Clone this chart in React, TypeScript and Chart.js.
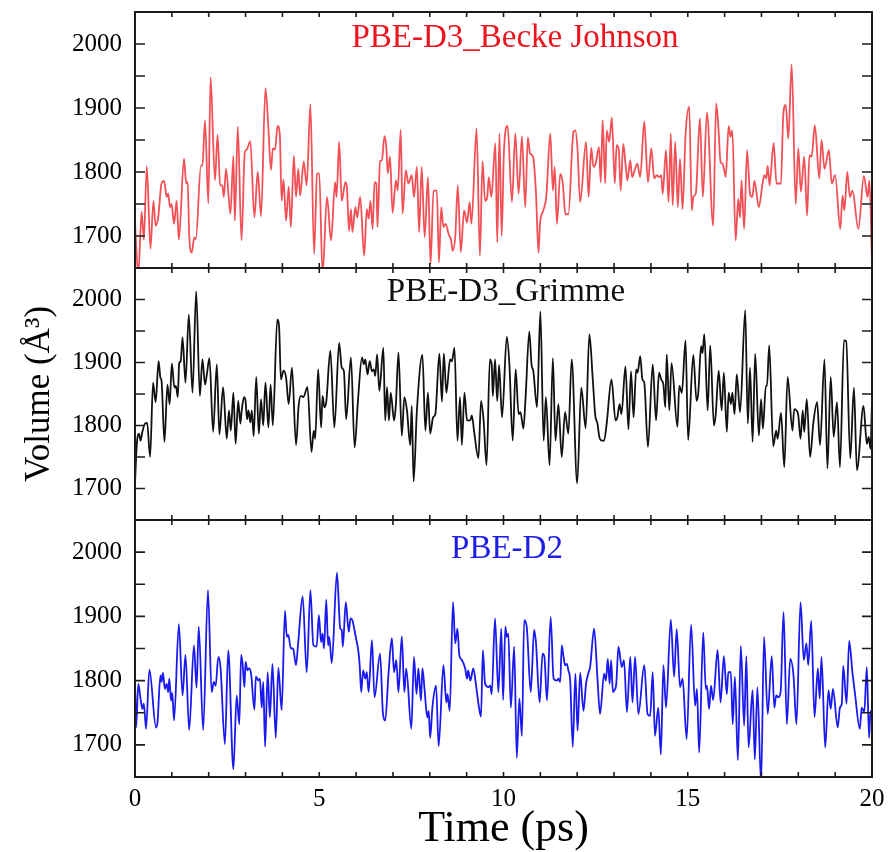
import React, { useEffect, useRef } from "react";
import { Chart, registerables } from "chart.js";

Chart.register(...registerables);

// ---------------- data ----------------
const xTickValues = [0, 5, 10, 15, 20];
const yTickValues = [1700, 1800, 1900, 2000];
const xMinorTicks = [0, 1, 2, 3, 4, 5, 6, 7, 8, 9, 10, 11, 12, 13, 14, 15, 16, 17, 18, 19, 20];
const yMinorTicks = [1700, 1750, 1800, 1850, 1900, 1950, 2000];
const panelTitles = ["PBE-D3_Becke Johnson", "PBE-D3_Grimme", "PBE-D2"];
const xAxisTitle = "Time (ps)";
const yAxisTitle = "Volume (Å³)";

const redTime = [0.00,0.09,0.18,0.24,0.32,0.42,0.50,0.56,0.63,0.72,0.79,0.86,0.90,0.95,0.99,1.06,1.13,1.19,1.33,1.39,1.43,1.47,1.54,1.61,1.65,1.79,1.83,1.90,1.99,2.05,2.17,2.24,2.31,2.37,2.41,2.47,2.59,2.67,2.71,2.79,2.89,2.98,3.03,3.13,3.24,3.33,3.42,3.54,3.62,3.69,3.74,3.80,3.87,3.93,3.98,4.03,4.10,4.17,4.23,4.31,4.37,4.43,4.48,4.58,4.66,4.76,4.86,4.94,5.00,5.09,5.21,5.32,5.43,5.47,5.54,5.61,5.71,5.75,5.81,5.86,5.90,5.98,6.03,6.11,6.22,6.29,6.34,6.39,6.45,6.50,6.55,6.58,6.65,6.70,6.77,6.82,6.86,6.92,6.99,7.08,7.13,7.21,7.26,7.35,7.42,7.51,7.57,7.65,7.71,7.78,7.86,7.95,8.02,8.10,8.19,8.25,8.31,8.37,8.43,8.51,8.58,8.62,8.69,8.76,8.84,8.93,9.01,9.08,9.13,9.27,9.36,9.43,9.50,9.56,9.60,9.67,9.78,9.83,9.89,9.95,10.01,10.11,10.23,10.32,10.41,10.50,10.59,10.66,10.72,10.80,10.88,10.95,10.99,11.08,11.16,11.27,11.34,11.39,11.45,11.54,11.61,11.68,11.76,11.90,11.95,12.01,12.08,12.24,12.31,12.38,12.44,12.50,12.59,12.64,12.69,12.76,12.80,12.87,12.94,13.02,13.07,13.13,13.18,13.25,13.31,13.36,13.44,13.49,13.56,13.63,13.71,13.82,13.92,14.01,14.09,14.16,14.23,14.28,14.32,14.41,14.48,14.54,14.59,14.66,14.73,14.79,14.86,14.94,15.04,15.11,15.15,15.22,15.33,15.41,15.52,15.69,15.77,15.83,15.89,15.94,15.99,16.03,16.11,16.16,16.21,16.30,16.37,16.42,16.46,16.53,16.61,16.69,16.75,16.81,16.93,17.03,17.08,17.13,17.17,17.22,17.33,17.41,17.48,17.53,17.59,17.66,17.73,17.82,17.93,18.00,18.07,18.16,18.24,18.30,18.36,18.45,18.57,18.63,18.71,18.83,18.91,19.00,19.14,19.20,19.25,19.33,19.40,19.47,19.63,19.78,19.88,19.93,20.00];
const redVolume = [1719,1640,1738,1694,1809,1680,1755,1716,1729,1782,1786,1761,1766,1745,1750,1719,1755,1694,1821,1782,1784,1703,1674,1698,1695,1810,1810,1881,1751,1948,1787,1858,1779,1779,1761,1805,1735,1825,1724,1871,1693,1831,1835,1848,1729,1800,1731,1931,1868,1803,1837,1835,1872,1858,1755,1788,1724,1777,1714,1825,1761,1805,1763,1816,1779,1906,1672,1797,1798,1640,1761,1693,1784,1761,1847,1755,1784,1776,1708,1742,1706,1745,1729,1761,1669,1742,1727,1755,1711,1784,1782,1714,1817,1818,1856,1839,1798,1824,1736,1787,1771,1866,1735,1803,1782,1795,1761,1808,1706,1808,1698,1792,1656,1771,1771,1659,1745,1714,1719,1703,1693,1677,1698,1779,1675,1740,1721,1753,1719,1868,1669,1817,1755,1761,1792,1761,1845,1690,1860,1700,1829,1872,1753,1860,1766,1856,1745,1854,1829,1824,1769,1674,1719,1740,1761,1860,1771,1808,1719,1797,1782,1734,1734,1863,1865,1834,1753,1847,1761,1838,1808,1813,1839,1784,1881,1782,1865,1847,1885,1782,1842,1834,1771,1844,1813,1787,1818,1792,1803,1813,1792,1879,1784,1837,1790,1795,1792,1795,1766,1834,1753,1860,1748,1847,1745,1821,1742,1858,1902,1740,1761,1767,1884,1761,1893,1716,1907,1871,1816,1813,1803,1792,1872,1855,1865,1693,1758,1729,1787,1711,1834,1766,1761,1786,1745,1782,1795,1790,1810,1779,1845,1782,1782,1782,1887,1905,1852,1968,1750,1837,1769,1824,1732,1826,1824,1873,1790,1850,1805,1834,1782,1795,1711,1763,1740,1800,1761,1771,1711,1794,1761,1787,1656];

const blackTime = [0.00,0.05,0.11,0.15,0.20,0.27,0.33,0.41,0.49,0.56,0.64,0.69,0.72,0.80,0.88,0.94,1.00,1.07,1.11,1.16,1.20,1.24,1.29,1.37,1.46,1.56,1.66,1.76,1.83,1.90,1.95,2.02,2.12,2.22,2.29,2.39,2.49,2.55,2.60,2.67,2.73,2.80,2.86,2.89,2.96,3.00,3.04,3.08,3.13,3.17,3.22,3.29,3.36,3.42,3.48,3.54,3.62,3.68,3.74,3.86,3.91,3.96,4.03,4.10,4.17,4.26,4.37,4.44,4.50,4.57,4.68,4.79,4.85,4.89,4.97,5.05,5.09,5.14,5.19,5.30,5.41,5.54,5.61,5.67,5.73,5.86,5.96,6.05,6.16,6.21,6.25,6.31,6.37,6.43,6.48,6.52,6.57,6.63,6.74,6.79,6.84,6.89,6.94,7.03,7.08,7.15,7.24,7.31,7.38,7.47,7.51,7.56,7.65,7.80,7.88,7.95,8.01,8.09,8.15,8.26,8.33,8.38,8.45,8.55,8.60,8.67,8.75,8.82,8.87,8.94,9.01,9.10,9.14,9.21,9.32,9.39,9.46,9.54,9.63,9.68,9.71,9.77,9.83,9.88,9.96,10.09,10.16,10.25,10.33,10.41,10.46,10.54,10.60,10.70,10.76,10.81,10.91,11.00,11.09,11.15,11.25,11.34,11.41,11.49,11.58,11.67,11.76,11.85,12.00,12.11,12.23,12.33,12.42,12.49,12.55,12.60,12.67,12.73,12.80,12.93,13.04,13.09,13.15,13.20,13.31,13.39,13.46,13.53,13.60,13.64,13.71,13.77,13.82,13.92,14.05,14.14,14.22,14.28,14.34,14.39,14.43,14.50,14.56,14.72,14.77,14.84,14.94,15.01,15.15,15.24,15.29,15.36,15.40,15.45,15.54,15.61,15.71,15.76,15.84,15.92,15.98,16.06,16.11,16.17,16.21,16.27,16.33,16.42,16.56,16.63,16.69,16.76,16.83,16.93,16.99,17.04,17.12,17.15,17.21,17.32,17.40,17.44,17.53,17.62,17.71,17.84,17.89,17.95,18.00,18.06,18.12,18.16,18.23,18.32,18.41,18.51,18.59,18.71,18.79,18.88,18.96,19.05,19.13,19.24,19.30,19.41,19.51,19.59,19.77,19.86,19.91,19.96,20.00];
const blackVolume = [1708,1771,1787,1776,1790,1803,1804,1750,1868,1837,1902,1876,1871,1774,1865,1834,1898,1860,1863,1845,1899,1902,1940,1868,1976,1852,2013,1847,1905,1865,1881,1907,1790,1897,1786,1861,1779,1824,1792,1852,1771,1839,1803,1821,1845,1839,1810,1824,1805,1824,1783,1877,1787,1842,1800,1868,1797,1865,1800,1968,1957,1873,1887,1876,1834,1892,1769,1831,1847,1845,1861,1758,1792,1779,1889,1797,1847,1829,1837,1919,1797,1931,1892,1886,1810,1908,1765,1839,1908,1897,1905,1881,1902,1886,1889,1879,1913,1855,1923,1808,1861,1808,1852,1808,1834,1916,1784,1845,1824,1769,1831,1711,1824,1912,1792,1852,1787,1813,1818,1914,1838,1914,1852,1905,1902,1923,1776,1845,1769,1852,1808,1808,1816,1787,1748,1839,1808,1737,1905,1897,1847,1905,1839,1896,1813,1941,1897,1776,1889,1818,1821,1795,1845,1949,1897,1886,1829,1981,1776,1845,1737,1907,1776,1834,1750,1821,1787,1905,1708,1860,1796,1945,1876,1816,1803,1782,1776,1776,1803,1873,1808,1813,1834,1818,1894,1794,1886,1813,1889,1884,1910,1873,1868,1766,1897,1808,1884,1873,1865,1829,1913,1824,1899,1798,1863,1852,1935,1777,1912,1839,1855,1926,1915,1945,1824,1927,1800,1818,1887,1824,1884,1790,1852,1834,1852,1818,1881,1821,1983,1803,1892,1774,1914,1784,1842,1795,1863,1863,1927,1767,1792,1779,1820,1734,1877,1792,1826,1824,1816,1779,1824,1790,1842,1750,1805,1837,1769,1905,1732,1877,1782,1837,1734,1935,1934,1748,1860,1729,1831,1771,1782,1763,1840];

const blueTime = [0.00,0.03,0.09,0.15,0.20,0.24,0.30,0.39,0.57,0.61,0.69,0.72,0.76,0.81,0.86,0.90,0.93,0.98,1.01,1.06,1.19,1.29,1.37,1.47,1.60,1.67,1.73,1.85,1.98,2.08,2.14,2.19,2.26,2.32,2.44,2.53,2.67,2.76,2.83,2.88,2.92,2.97,3.00,3.05,3.09,3.15,3.24,3.28,3.35,3.39,3.44,3.48,3.53,3.60,3.66,3.73,3.82,3.89,3.98,4.07,4.12,4.16,4.23,4.29,4.37,4.43,4.55,4.66,4.76,4.84,4.93,4.99,5.05,5.09,5.13,5.19,5.24,5.27,5.34,5.48,5.57,5.61,5.64,5.72,5.80,5.85,5.90,5.98,6.07,6.10,6.14,6.19,6.25,6.29,6.34,6.43,6.50,6.65,6.73,6.79,6.88,6.97,7.03,7.09,7.15,7.24,7.31,7.36,7.50,7.57,7.64,7.69,7.76,7.80,7.86,7.93,7.97,8.01,8.07,8.17,8.24,8.37,8.45,8.48,8.54,8.63,8.69,8.75,8.80,8.87,8.96,9.01,9.04,9.10,9.18,9.25,9.32,9.39,9.44,9.50,9.59,9.64,9.68,9.77,9.86,9.94,9.99,10.05,10.09,10.13,10.20,10.29,10.36,10.43,10.50,10.56,10.63,10.74,10.83,10.88,10.98,11.06,11.11,11.18,11.28,11.36,11.45,11.49,11.54,11.58,11.63,11.67,11.72,11.76,11.81,11.88,11.95,12.01,12.08,12.17,12.24,12.31,12.35,12.46,12.55,12.62,12.73,12.78,12.83,12.88,12.92,12.97,13.01,13.06,13.12,13.21,13.27,13.35,13.44,13.50,13.57,13.66,13.82,13.91,13.98,14.05,14.11,14.20,14.27,14.34,14.41,14.54,14.63,14.70,14.79,14.86,14.97,15.09,15.20,15.25,15.31,15.42,15.49,15.52,15.58,15.63,15.69,15.81,15.89,15.98,16.06,16.10,16.17,16.22,16.28,16.36,16.44,16.53,16.59,16.65,16.76,16.82,16.89,16.99,17.07,17.17,17.28,17.35,17.40,17.46,17.52,17.60,17.69,17.78,17.87,17.95,18.06,18.15,18.22,18.27,18.35,18.44,18.53,18.58,18.63,18.73,18.82,18.88,18.94,19.07,19.13,19.18,19.22,19.31,19.38,19.47,19.54,19.67,19.72,19.79,19.86,19.92,19.96,20.00];
const blueVolume = [1800,1727,1795,1772,1756,1764,1725,1817,1727,1735,1808,1798,1812,1787,1795,1782,1803,1769,1781,1738,1888,1777,1840,1723,1855,1789,1884,1723,1941,1782,1798,1792,1837,1821,1701,1847,1662,1777,1732,1840,1826,1790,1829,1816,1819,1811,1755,1806,1800,1803,1758,1798,1697,1813,1743,1826,1711,1820,1754,1909,1868,1871,1850,1850,1824,1860,1931,1813,1941,1855,1853,1902,1860,1873,1850,1926,1855,1868,1827,1968,1881,1879,1853,1922,1876,1897,1894,1871,1842,1821,1782,1816,1803,1813,1782,1863,1774,1842,1748,1738,1811,1866,1813,1832,1782,1869,1782,1819,1725,1837,1779,1819,1769,1819,1785,1743,1753,1711,1758,1792,1698,1824,1766,1779,1753,1922,1858,1881,1840,1832,1819,1803,1816,1800,1819,1795,1764,1744,1847,1795,1790,1792,1779,1897,1782,1881,1770,1884,1868,1873,1758,1853,1680,1772,1714,1894,1884,1782,1879,1860,1766,1842,1837,1769,1899,1803,1800,1803,1798,1855,1837,1824,1826,1816,1800,1697,1811,1722,1812,1753,1795,1813,1821,1881,1803,1748,1811,1800,1834,1795,1832,1782,1785,1795,1853,1821,1832,1751,1837,1766,1837,1748,1824,1748,1745,1813,1714,1758,1685,1824,1758,1895,1806,1880,1790,1803,1709,1887,1761,1787,1688,1875,1787,1792,1756,1792,1770,1848,1766,1838,1779,1813,1813,1732,1806,1676,1854,1730,1838,1696,1785,1677,1790,1640,1868,1748,1838,1758,1777,1774,1782,1907,1732,1834,1808,1732,1922,1832,1858,1824,1893,1743,1819,1772,1837,1696,1785,1756,1787,1727,1758,1764,1823,1764,1862,1812,1779,1725,1758,1751,1821,1711,1753,1743];

// ---------------- layout / style ----------------
const W = 888;
const H = 852;
const X_MIN = 0;
const X_MAX = 20;
const Y_MIN = 1650;
const Y_MAX = 2050;
const FONT = "'Liberation Serif', 'Times New Roman', Times, serif";

type Panel = {
  time: number[];
  volume: number[];
  title: string;
  lineColor: string;
  titleColor: string;
  top: number;
  bottom: number;
  titleX: number;
  titleBaseline: number;
  showX: boolean;
  showYTitle: boolean;
};

const panels: Panel[] = [
  { time: redTime, volume: redVolume, title: panelTitles[0], lineColor: "rgb(242,80,85)", titleColor: "rgb(236,20,30)", top: 12, bottom: 268, titleX: 515, titleBaseline: 35, showX: false, showYTitle: false },
  { time: blackTime, volume: blackVolume, title: panelTitles[1], lineColor: "#111111", titleColor: "#111111", top: 268, bottom: 520, titleX: 506, titleBaseline: 33, showX: false, showYTitle: true },
  { time: blueTime, volume: blueVolume, title: panelTitles[2], lineColor: "rgb(25,25,240)", titleColor: "rgb(30,30,230)", top: 520, bottom: 777, titleX: 507, titleBaseline: 38, showX: true, showYTitle: false },
];

function framePlugin(panel: Panel) {
  return {
    id: "panelFrame",
    afterDraw(chart: any) {
      const { ctx, chartArea } = chart;
      const { left, right, top, bottom } = chartArea;
      const xs = chart.scales.x;
      const ys = chart.scales.y;
      ctx.save();
      ctx.strokeStyle = "#1c1c1c";
      ctx.lineWidth = 2;
      ctx.strokeRect(left, top, right - left, bottom - top);
      ctx.lineWidth = 1.6;
      ctx.beginPath();
      for (const t of xMinorTicks) {
        const px = xs.getPixelForValue(t);
        ctx.moveTo(px, bottom);
        ctx.lineTo(px, bottom - 5);
        ctx.moveTo(px, top);
        ctx.lineTo(px, top + 5);
      }
      for (const v of yMinorTicks) {
        const py = ys.getPixelForValue(v);
        ctx.moveTo(left, py);
        ctx.lineTo(left + 10, py);
        ctx.moveTo(right, py);
        ctx.lineTo(right - 10, py);
      }
      ctx.stroke();
      ctx.font = `33px ${FONT}`;
      ctx.fillStyle = panel.titleColor;
      ctx.textAlign = "center";
      ctx.textBaseline = "alphabetic";
      ctx.fillText(panel.title, panel.titleX, top + panel.titleBaseline);
      ctx.restore();
    },
  };
}

function makeChart(canvas: HTMLCanvasElement, panel: Panel) {
  const points = panel.time.map((t, i) => ({ x: t, y: panel.volume[i] }));
  return new Chart(canvas, {
    type: "line",
    data: {
      datasets: [
        {
          data: points,
          borderColor: panel.lineColor,
          borderWidth: 1.8,
          pointRadius: 0,
          fill: false,
          cubicInterpolationMode: "monotone",
        },
      ],
    },
    options: {
      responsive: false,
      maintainAspectRatio: false,
      animation: false,
      devicePixelRatio: 1,
      layout: {
        padding: {
          left: 0,
          right: W - 872,
          top: panel.top,
          bottom: panel.showX ? 0 : H - panel.bottom,
        },
      },
      plugins: { legend: { display: false }, tooltip: { enabled: false } },
      scales: {
        x: {
          type: "linear",
          min: X_MIN,
          max: X_MAX,
          display: panel.showX,
          grid: { display: false, drawTicks: false },
          border: { display: false },
          afterBuildTicks: (s: any) => {
            s.ticks = xTickValues.map((v) => ({ value: v }));
          },
          afterFit: (s: any) => {
            s.height = panel.showX ? H - panel.bottom : 0;
            s.paddingLeft = 0;
            s.paddingRight = 0;
          },
          ticks: {
            font: { family: FONT, size: 25 },
            color: "#000",
            padding: 7,
            maxRotation: 0,
            autoSkip: false,
            callback: (v: any) => String(v),
          },
          title: { display: true, text: xAxisTitle, font: { family: FONT, size: 44 }, color: "#000", padding: { top: 0, bottom: -4 } },
        },
        y: {
          type: "linear",
          min: Y_MIN,
          max: Y_MAX,
          grid: { display: false, drawTicks: false },
          border: { display: false },
          afterBuildTicks: (s: any) => {
            s.ticks = yTickValues.map((v) => ({ value: v }));
          },
          afterFit: (s: any) => {
            s.width = 135;
            s.paddingTop = 0;
            s.paddingBottom = 0;
          },
          ticks: { font: { family: FONT, size: 25 }, color: "#000", padding: 13, callback: (v: any) => String(v) },
          title: { display: panel.showYTitle, text: yAxisTitle, font: { family: FONT, size: 35 }, color: "#000", padding: { top: 19, bottom: 0 } },
        },
      },
    },
    plugins: [framePlugin(panel)],
  } as any);
}

export default function App() {
  const r1 = useRef<HTMLCanvasElement>(null);
  const r2 = useRef<HTMLCanvasElement>(null);
  const r3 = useRef<HTMLCanvasElement>(null);

  useEffect(() => {
    const refs = [r1, r2, r3];
    const charts = refs.map((r, i) => makeChart(r.current as HTMLCanvasElement, panels[i]));
    return () => charts.forEach((c) => c.destroy());
  }, []);

  const canvasStyle: React.CSSProperties = { position: "absolute", left: 0, top: 0, width: W, height: H };
  return (
    <div style={{ position: "fixed", left: 0, top: 0, width: W, height: H, background: "#fff" }}>
      <canvas ref={r1} width={W} height={H} style={canvasStyle} />
      <canvas ref={r2} width={W} height={H} style={canvasStyle} />
      <canvas ref={r3} width={W} height={H} style={canvasStyle} />
    </div>
  );
}
